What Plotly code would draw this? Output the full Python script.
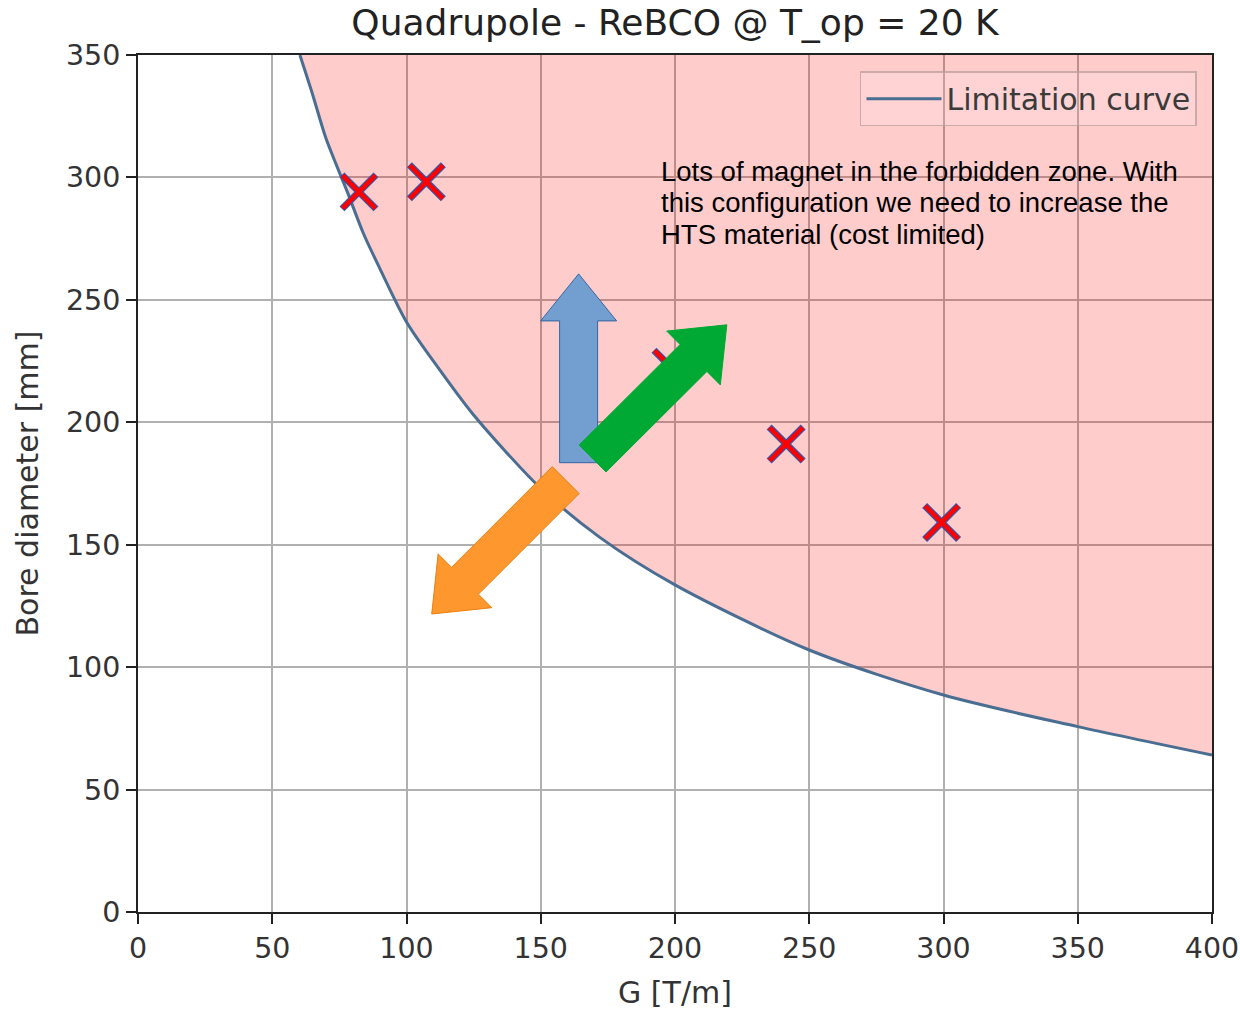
import math
import plotly.graph_objects as go

# ---- data ----
G_curve = [60.3, 65, 70, 78, 84, 90, 100, 112, 125, 150, 172, 200, 250, 300, 350, 400]
D_curve = [350, 334, 316, 294, 277, 263, 241, 222, 203, 173, 153, 133.6, 107, 88.6, 75.7, 64.1]

G_magnets = [82.3, 107.4, 198.5, 241.4, 299.3]
D_magnets = [294.1, 298.2, 222.5, 191.1, 159.1]

x_ticks = [0, 50, 100, 150, 200, 250, 300, 350, 400]
y_ticks = [0, 50, 100, 150, 200, 250, 300, 350]

note_lines = [
    "Lots of magnet in the forbidden zone. With",
    "this configuration we need to increase the",
    "HTS material (cost limited)",
]

# ---- layout geometry ----
W, H = 1240, 1012
ML, MR, MT, MB = 138, 28, 55, 100
PW, PH = W - ML - MR, H - MT - MB
XR, YR = (0, 400), (0, 350)
sx = PW / (XR[1] - XR[0])
sy = PH / (YR[1] - YR[0])

FONT = "DejaVu Sans"
TXT = "#333333"
CURVE = "#4a6d92"

fig = go.Figure()

# forbidden-zone fill (top boundary, then curve filled to it)
fig.add_trace(go.Scatter(x=G_curve, y=[YR[1]] * len(G_curve), mode="lines",
                         line=dict(width=0, color="rgba(0,0,0,0)"),
                         showlegend=False, hoverinfo="skip"))
fig.add_trace(go.Scatter(x=G_curve, y=D_curve, mode="lines", showlegend=False, hoverinfo="skip",
                         line=dict(width=0, color="rgba(0,0,0,0)", shape="spline", smoothing=0.8),
                         fill="tonexty", fillcolor="rgba(255,0,0,0.2)"))
# limitation curve
fig.add_trace(go.Scatter(x=G_curve, y=D_curve, mode="lines", name="Limitation curve",
                         line=dict(color=CURVE, width=3, shape="spline", smoothing=0.8)))

# magnets (red X with thin blue outline)
fig.add_trace(go.Scatter(x=G_magnets, y=D_magnets, mode="markers", showlegend=False,
                         marker=dict(symbol="x-thin", size=34,
                                     line=dict(color="#3355aa", width=7))))
fig.add_trace(go.Scatter(x=G_magnets, y=D_magnets, mode="markers", showlegend=False,
                         marker=dict(symbol="x-thin", size=33,
                                     line=dict(color="#ff0000", width=4.5))))


def arrow_path(tail, tip, shaft=38, head_w=76, head_len=47):
    # work in pixel space, return path in data coordinates
    tx, ty = tail[0] * sx, tail[1] * sy
    hx, hy = tip[0] * sx, tip[1] * sy
    L = math.hypot(hx - tx, hy - ty)
    ux, uy = (hx - tx) / L, (hy - ty) / L
    px, py = -uy, ux
    bx, by = hx - ux * head_len, hy - uy * head_len
    pts = [
        (tx + px * shaft / 2, ty + py * shaft / 2),
        (bx + px * shaft / 2, by + py * shaft / 2),
        (bx + px * head_w / 2, by + py * head_w / 2),
        (hx, hy),
        (bx - px * head_w / 2, by - py * head_w / 2),
        (bx - px * shaft / 2, by - py * shaft / 2),
        (tx - px * shaft / 2, ty - py * shaft / 2),
    ]
    return "M " + " L ".join(f"{x / sx:.3f},{y / sy:.3f}" for x, y in pts) + " Z"


arrows = [
    ((164.1, 183.5), (164.1, 260.6), "#729fcf", "#3465a4"),
    ((169.3, 185.2), (219.3, 239.8), "#00a933", "#00a933"),
    ((159.3, 176.4), (109.4, 121.7), "#ff972f", "#e8800f"),
]
shapes = []
for tail, tip, fc, lc in arrows:
    shapes.append(dict(type="path", xref="x", yref="y", path=arrow_path(tail, tip),
                       fillcolor=fc, line=dict(color=lc, width=1), layer="above"))

annotations = []
note_y = [302.3, 289.6, 276.6]
for t, yy in zip(note_lines, note_y):
    annotations.append(dict(x=194.0, y=yy, xref="x", yref="y", text=t, showarrow=False,
                            xanchor="left", yanchor="middle",
                            font=dict(family="Liberation Sans, Arial", size=27.5, color="#000000")))

axis_common = dict(showline=True, linecolor="#222222", linewidth=2, mirror=True,
                   ticks="outside", ticklen=10, tickwidth=2, tickcolor="#222222",
                   showgrid=True, gridcolor="#b0b0b0", gridwidth=1.6, zeroline=False,
                   tickfont=dict(family=FONT, size=28.5, color=TXT))

fig.update_layout(
    width=W, height=H,
    margin=dict(l=ML, r=MR, t=MT, b=MB, autoexpand=False),
    paper_bgcolor="white", plot_bgcolor="white",
    title=dict(text="Quadrupole - ReBCO @ T_op = 20 K", x=(ML + PW / 2) / W, xanchor="center",
               y=1 - 22 / H, yanchor="middle",
               font=dict(family=FONT, size=36, color="#222222")),
    xaxis=dict(range=list(XR), tickvals=x_ticks, ticktext=[str(v) for v in x_ticks],
               title=dict(text="G [T/m]", font=dict(family=FONT, size=30, color=TXT), standoff=18),
               **axis_common),
    yaxis=dict(range=list(YR), tickvals=y_ticks, ticktext=[str(v) for v in y_ticks],
               title=dict(text="Bore diameter [mm]", font=dict(family=FONT, size=30, color=TXT), standoff=18),
               **axis_common),
    legend=dict(x=0.986, y=0.981, xanchor="right", yanchor="top",
                bgcolor="rgba(255,255,255,0.15)", bordercolor="rgba(190,160,160,0.8)", borderwidth=1.5,
                itemwidth=75,
                font=dict(family=FONT, size=30, color="#3a3a3a")),
    shapes=shapes,
    annotations=annotations,
    showlegend=True,
)

fig.write_html("out.html",
               config={"displayModeBar": False},
               post_script="document.body.style.margin='0px';"
                           "document.documentElement.style.overflow='hidden';")
